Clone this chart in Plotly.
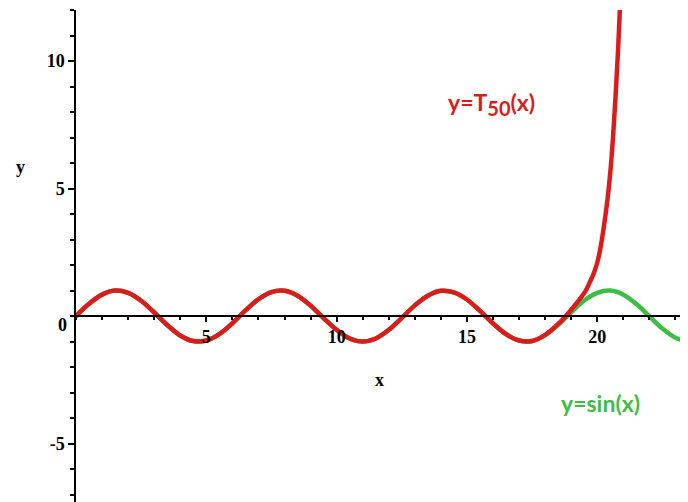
import plotly.graph_objects as go

# sin(x) curve, values
sin_x = [0, 0.5, 1, 1.5, 2, 2.5, 3, 3.5, 4, 4.5, 5, 5.5, 6, 6.5, 7, 7.5, 8, 8.5,
         9, 9.5, 10, 10.5, 11, 11.5, 12, 12.5, 13, 13.5, 14, 14.5, 15, 15.5, 16,
         16.5, 17, 17.5, 18, 18.5, 19, 19.5, 20, 20.5, 21, 21.5, 22, 22.5, 23, 23.5]
sin_y = [0, 0.48, 0.84, 1.0, 0.91, 0.6, 0.14, -0.35, -0.76, -0.98, -0.96, -0.71,
         -0.28, 0.22, 0.66, 0.94, 0.99, 0.8, 0.41, -0.08, -0.54, -0.88, -1.0, -0.88,
         -0.54, -0.07, 0.42, 0.8, 0.99, 0.93, 0.65, 0.2, -0.29, -0.71, -0.96, -0.98,
         -0.75, -0.34, 0.15, 0.61, 0.91, 1.0, 0.84, 0.47, -0.01, -0.49, -0.85, -1.0]

# Taylor polynomial T_50 curve
t50_x = [0, 0.5, 1, 1.5, 2, 2.5, 3, 3.5, 4, 4.5, 5, 5.5, 6, 6.5, 7, 7.5, 8, 8.5,
         9, 9.5, 10, 10.5, 11, 11.5, 12, 12.5, 13, 13.5, 14, 14.5, 15, 15.5, 16,
         16.5, 17, 17.5, 18, 18.5, 19, 19.5, 19.6, 19.7, 19.8, 19.9, 20.0, 20.1,
         20.2, 20.3, 20.4, 20.5, 20.6, 20.7, 20.8, 20.9]
t50_y = [0, 0.48, 0.84, 1.0, 0.91, 0.6, 0.14, -0.35, -0.76, -0.98, -0.96, -0.71,
         -0.28, 0.22, 0.66, 0.94, 0.99, 0.8, 0.41, -0.08, -0.54, -0.88, -1.0, -0.88,
         -0.54, -0.07, 0.42, 0.8, 0.99, 0.93, 0.65, 0.2, -0.29, -0.71, -0.96, -0.98,
         -0.74, -0.31, 0.25, 0.9, 1.08, 1.3, 1.52, 1.78, 2.1, 2.55, 3.15, 3.85,
         4.65, 5.65, 6.95, 8.6, 10.5, 12.8]

x_ticks = [5, 10, 15, 20]
y_ticks = [-5, 5, 10]

X_RANGE = [0, 23.48]
Y_RANGE = [-7.29, 12.0]

RED = "#dc1c1c"
GREEN = "#3dbd45"

fig = go.Figure()
fig.add_trace(go.Scatter(x=sin_x, y=sin_y, mode="lines",
                         line=dict(color=GREEN, width=4.5, shape="spline", smoothing=1.0),
                         hoverinfo="skip"))
fig.add_trace(go.Scatter(x=t50_x, y=t50_y, mode="lines",
                         line=dict(color=RED, width=4.5, shape="spline", smoothing=1.0),
                         hoverinfo="skip"))

tickfont = dict(family="Liberation Serif", size=18, color="black", weight="bold")
x_pos = (0 - Y_RANGE[0]) / (Y_RANGE[1] - Y_RANGE[0])

# the page body has an 8px default margin, so the figure is sized to fit the window
fig.update_layout(
    width=680, height=494,
    margin=dict(l=68, r=0, t=2, b=0, pad=0, autoexpand=False),
    paper_bgcolor="white", plot_bgcolor="white",
    showlegend=False,
    xaxis=dict(range=X_RANGE, showgrid=False, zeroline=False, automargin=False,
               showline=True, linecolor="black", linewidth=1.5,
               anchor="free", position=x_pos,
               tickmode="array", tickvals=x_ticks, ticktext=[str(v) for v in x_ticks],
               ticks="outside", ticklen=5, tickwidth=1.5, tickcolor="black",
               tickfont=tickfont,
               minor=dict(dtick=1, tick0=0, ticks="outside", ticklen=3,
                          tickwidth=1.5, tickcolor="black")),
    yaxis=dict(range=Y_RANGE, showgrid=False, zeroline=False, automargin=False,
               showline=True, linecolor="black", linewidth=1.5,
               tickmode="array", tickvals=y_ticks, ticktext=[str(v) for v in y_ticks],
               ticks="outside", ticklen=6, tickwidth=1.5, tickcolor="black",
               tickfont=tickfont,
               minor=dict(dtick=1, tick0=0, ticks="outside", ticklen=4,
                          tickwidth=1.5, tickcolor="black")),
    annotations=[
        dict(x=0, y=0, xref="x", yref="y", text="0", showarrow=False,
             xanchor="right", xshift=-7, yshift=-9, font=tickfont),
        dict(x=11.66, y=-2.5, xref="x", yref="y", text="x", showarrow=False,
             font=tickfont),
        dict(x=-0.101, y=5.84, xref="paper", yref="y", text="y", showarrow=False,
             font=tickfont),
        dict(x=15.96, y=8.31, xref="x", yref="y",
             text="y=T<sub><span style='font-size:20px'>50</span></sub>(x)",
             showarrow=False,
             font=dict(family="Lato", size=23, color=RED, weight="bold")),
        dict(x=20.14, y=-3.41, xref="x", yref="y", text="y=sin(x)", showarrow=False,
             font=dict(family="Lato", size=23, color=GREEN, weight="bold")),
    ],
)

fig.write_html("out.html")
